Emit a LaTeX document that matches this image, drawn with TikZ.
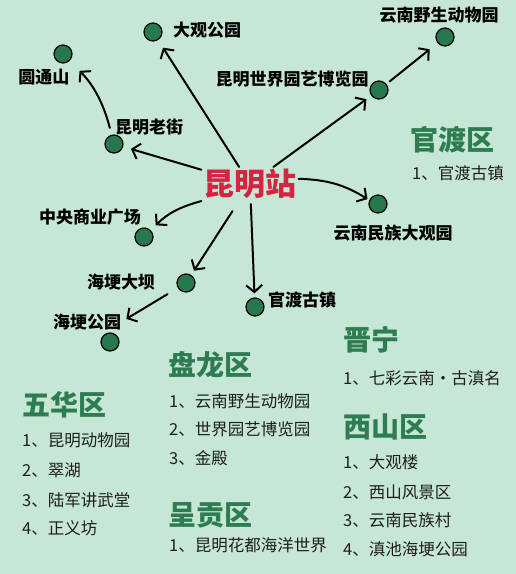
\documentclass[tikz,border=0pt]{standalone}
\usepackage{fontspec}
\setmainfont{Noto Sans CJK SC}
\usetikzlibrary{arrows.meta,positioning}
\definecolor{bgmint}{RGB}{198,231,214}
\definecolor{areagreen}{RGB}{46,125,82}
\definecolor{spotgreen}{RGB}{40,120,78}
\definecolor{stationred}{RGB}{212,36,66}
\definecolor{itemgray}{RGB}{30,30,30}

\begin{document}
\begin{tikzpicture}[
  x=1pt,y=1pt,
  spot/.style={circle,draw=black,line width=1.2pt,fill=spotgreen,minimum size=18pt,inner sep=0pt},
  place/.style={font=\bfseries\fontsize{17}{20}\selectfont,inner sep=0pt},
  area/.style={font=\bfseries\fontsize{28}{32}\selectfont,text=areagreen,anchor=west,inner sep=0pt},
  item/.style={font=\fontsize{16.5}{20}\selectfont,text=itemgray,anchor=west,inner sep=0pt},
  arr/.style={-{Straight Barb[length=7pt,width=16pt]},line width=2pt,line cap=round}
]
\fill[bgmint] (0,0) rectangle (516,-574);
\useasboundingbox (0,0) rectangle (516,-574);

\node[font=\bfseries\fontsize{31}{34}\selectfont,text=stationred,inner sep=2pt] (st) at (250,-184) {昆明站};

% spots
\node[spot] (dg) at (153,-32) {};
\node[spot] (yt) at (63,-54) {};
\node[spot] (lj) at (114,-144) {};
\node[spot] (yw) at (445,-37) {};
\node[spot] (sj) at (379,-90) {};
\node[spot] (mz) at (378,-204) {};
\node[spot] (zy) at (144,-237) {};
\node[spot] (hd) at (186,-283) {};
\node[spot] (hg) at (110,-342) {};
\node[spot] (gd) at (255,-307) {};

\node[place] (dgl) at (207,-30) {大观公园};
\node[place] (ytl) at (44,-77) {圆通山};
\node[place] (ljl) at (149,-127) {昆明老街};
\node[place] (ywl) at (439,-15) {云南野生动物园};
\node[place] (sjl) at (292,-79) {昆明世界园艺博览园};
\node[place] (mzl) at (393,-233) {云南民族大观园};
\node[place] (zyl) at (90,-217) {中央商业广场};
\node[place] (hdl) at (121,-282) {海埂大坝};
\node[place] (hgl) at (87,-322) {海埂公园};
\node[place] (gdl) at (302,-300) {官渡古镇};

% arrows
\draw[arr,shorten >=9pt] (st) -- (dg);
\draw[arr,shorten >=8pt] (st) -- (lj);
\draw[arr,shorten <=7pt,shorten >=14pt] (lj) to[bend right=15] (yt);
\draw[arr,shorten >=6pt] (st) -- (sj);
\draw[arr,shorten <=4pt,shorten >=10pt] (sj) -- (yw);
\draw[arr,shorten >=2pt] (st) to[bend left=15] (mz);
\draw[arr,shorten >=7pt] (st.south west) to[out=195,in=45] (zy);
\draw[arr,shorten <=12pt,shorten >=5pt] (st) -- (hd);
\draw[arr,shorten <=12pt,shorten >=6pt] (hd) -- (hgl.east);
\draw[arr,shorten <=3pt,shorten >=4pt] (st) -- (gd);

% districts
\node[area] (gdq) at (410,-140) {官渡区};
\node[item] (gdq1) at (412,-173) {1、官渡古镇};

\node[area] (jn) at (343,-340) {晋宁};
\node[item] (jn1) at (343,-378) {1、七彩云南・古滇名};

\node[area] (xs) at (343,-427) {西山区};
\node[item] (xs1) at (343,-462) {1、大观楼};
\node[item] (xs2) at (343,-492) {2、西山风景区};
\node[item] (xs3) at (343,-520) {3、云南民族村};
\node[item] (xs4) at (343,-549) {4、滇池海埂公园};

\node[area] (pl) at (168,-365) {盘龙区};
\node[item] (pl1) at (169,-401) {1、云南野生动物园};
\node[item] (pl2) at (169,-429) {2、世界园艺博览园};
\node[item] (pl3) at (169,-458) {3、金殿};

\node[area] (cg) at (168,-515) {呈贡区};
\node[item] (cg1) at (169,-545) {1、昆明花都海洋世界};

\node[area] (wh) at (22,-405) {五华区};
\node[item] (wh1) at (22,-440) {1、昆明动物园};
\node[item] (wh2) at (22,-470) {2、翠湖};
\node[item] (wh3) at (22,-500) {3、陆军讲武堂};
\node[item] (wh4) at (22,-528) {4、正义坊};
\end{tikzpicture}
\end{document}
